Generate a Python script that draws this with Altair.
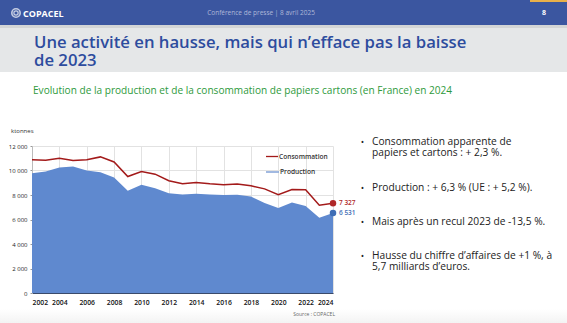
import altair as alt
import pandas as pd

# ---------------- data ----------------
years = list(range(2002, 2025))
consommation = [10870, 10840, 11000, 10820, 10870, 11110, 10700, 9510, 9920, 9700,
                9160, 8910, 9020, 8910, 8830, 8890, 8750, 8500, 8020, 8450,
                8420, 7162, 7327]
production = [9780, 9920, 10240, 10330, 10000, 9860, 9430, 8340, 8830, 8560,
              8150, 8040, 8100, 8040, 7990, 8020, 7880, 7340, 6930, 7390,
              7103, 6144, 6531]
series_names = ["Consommation", "Production"]
end_labels = ["7 327", "6 531"]
x_ticks = list(range(2002, 2025, 2))
y_ticks = list(range(0, 12001, 2000))

title_lines = ["Une activité en hausse, mais qui n’efface pas la baisse", "de 2023"]
subtitle = "Evolution de la production et de la consommation de papiers cartons (en France) en 2024"
header_center = "Conférence de presse | 8 avril 2025"
bullets = [
    ["Consommation apparente de", "papiers et cartons  : + 2,3 %."],
    ["Production : + 6,3 % (UE : + 5,2 %)."],
    ["Mais après un recul 2023  de -13,5 %."],
    ["Hausse du chiffre d’affaires de +1 %, à", "5,7 milliards d’euros."],
]

RED = "#A31A1A"
BLUE_FILL = "#5F89CF"
BLUE_DOT = "#3F6DB5"
FONT = "Open Sans"

df = pd.DataFrame({"year": years, "cons": consommation, "prod": production})
end_df = pd.DataFrame({
    "year": [years[-1], years[-1]],
    "value": [consommation[-1], production[-1]],
    "label": end_labels,
    "serie": series_names,
})

# plot-area origin in page pixels
OX, OY = 32, 146
W, H = 301, 147
one = pd.DataFrame({"k": [0]})


def txt(text, x, y, size, color, weight="normal", align="left", font=FONT,
        line_height=None, baseline="middle"):
    kw = dict(text=text, align=align, baseline=baseline, fontSize=size, color=color,
              fontWeight=weight, font=font)
    if line_height is not None:
        kw["lineHeight"] = line_height
    return alt.Chart(one).mark_text(**kw).encode(
        x=alt.value(x - OX), y=alt.value(y - OY))


def rect(x1, y1, x2, y2, color):
    return alt.Chart(one).mark_rect(color=color).encode(
        x=alt.value(x1 - OX), x2=alt.value(x2 - OX),
        y=alt.value(y1 - OY), y2=alt.value(y2 - OY))


def hline(x1, x2, y, color, width):
    return alt.Chart(one).mark_rule(color=color, strokeWidth=width).encode(
        x=alt.value(x1 - OX), x2=alt.value(x2 - OX), y=alt.value(y - OY))


deco = []
# header band
deco.append(rect(0, 0, 567, 25, "#3B56A0"))
deco.append(rect(530, 0, 567, 2, "#E8B04A"))
deco.append(rect(0, 25, 567, 72, "#E5E7E8"))
deco.append(rect(0, 25, 567, 28, "#D3D5D6"))
# bottom shade
deco.append(alt.Chart(one).mark_rect(
    fill=alt.Gradient(gradient="linear",
                      stops=[alt.GradientStop(color="#FFFFFF", offset=0),
                             alt.GradientStop(color="#F3F3F3", offset=1)],
                      x1=0, x2=0, y1=0, y2=1)
).encode(x=alt.value(0 - OX), x2=alt.value(567 - OX),
         y=alt.value(309 - OY), y2=alt.value(323 - OY)))

# logo
deco.append(alt.Chart(one).mark_point(shape="circle", size=70, color="white",
                                      strokeWidth=1.6, filled=False)
            .encode(x=alt.value(16 - OX), y=alt.value(13 - OY)))
deco.append(alt.Chart(one).mark_point(shape="circle", size=18, color="white",
                                      strokeWidth=1.3, filled=False)
            .encode(x=alt.value(16 - OX), y=alt.value(13 - OY)))
deco.append(txt("COPACEL", 23, 13.5, 9, "white", weight="bold"))
deco.append(txt(header_center, 261, 12.5, 6.5, "#AEB8D8", align="center"))
deco.append(txt("8", 544, 12.5, 7, "white", weight="bold", align="center"))

# titles (one two-line text)
deco.append(txt(title_lines, 34, 43, 16.7, "#2D4C9E", weight=600, line_height=18))
deco.append(txt(subtitle, 33, 90.5, 10.1, "#2E9A3C"))

# bullets
bullet_y = [142, 187.5, 221.5, 255.7]
for lines, y0 in zip(bullets, bullet_y):
    deco.append(txt("•", 362.5, y0, 9, "#222222", align="center"))
    deco.append(txt(lines, 372, y0, 10.2, "#222222", line_height=11))

# chart side texts
deco.append(txt("ktonnes", 11, 131, 6, "#333333"))
deco.append(txt("Source : COPACEL", 335, 314, 5, "#666666", align="right"))

# ---------------- chart ----------------
x_enc = alt.X("year:Q", scale=alt.Scale(domain=[2002, 2024], nice=False),
              axis=alt.Axis(values=x_ticks, tickCount=len(x_ticks), format="d", title=None,
                            labelFontSize=6.8,
                            labelFontWeight=600, labelColor="#111111", labelPadding=6,
                            tickSize=0, domainColor="#3A4A6A", domainWidth=1.2,
                            gridColor="#E2E2E2", labelFont=FONT, labelOverlap=False))
y_axis = alt.Axis(values=y_ticks, tickCount=len(y_ticks), title=None, labelFontSize=6,
                  labelColor="#222222",
                  labelExpr="replace(format(datum.value, ','), ',', ' ')",
                  tickSize=2, tickColor="#999999", labelPadding=3,
                  domainColor="#BBBBBB", gridColor="#E2E2E2", labelFont=FONT,
                  labelOverlap=False)

area = alt.Chart(df).mark_area(color=BLUE_FILL, opacity=1).encode(
    x=x_enc,
    y=alt.Y("prod:Q", scale=alt.Scale(domain=[0, 12000], nice=False), axis=y_axis),
)
line = alt.Chart(df).mark_line(color=RED, strokeWidth=1.5).encode(
    x="year:Q", y="cons:Q")

color_scale = alt.Scale(domain=series_names, range=["#B02828", BLUE_DOT])
dots = alt.Chart(end_df).mark_circle(size=42, opacity=1).encode(
    x="year:Q", y="value:Q",
    color=alt.Color("serie:N", scale=color_scale, legend=None))
labels = alt.Chart(end_df).mark_text(align="left", dx=6, fontSize=6.5, fontWeight=600,
                                     font=FONT).encode(
    x="year:Q", y="value:Q", text="label:N",
    color=alt.Color("serie:N", scale=alt.Scale(domain=series_names,
                                               range=["#C03A3A", "#3F6DB5"]), legend=None))

# manual legend
legend = [
    hline(266, 278, 156.5, RED, 1.3),
    txt(series_names[0], 279, 156.5, 6.6, "#333333", weight=600),
    hline(266, 279, 172, "#8AA8DA", 1.6),
    txt(series_names[1], 280, 172, 6.6, "#333333", weight=600),
]

chart = alt.layer(*deco, area, line, dots, labels, *legend).properties(
    width=W, height=H,
    padding={"left": OX, "top": OY, "right": 567 - OX - W, "bottom": 323 - OY - H},
    autosize=alt.AutoSizeParams(type="none"),
    background="white",
).configure_view(stroke=None)

chart.save("out.html", embed_options={"renderer": "svg", "actions": False})
